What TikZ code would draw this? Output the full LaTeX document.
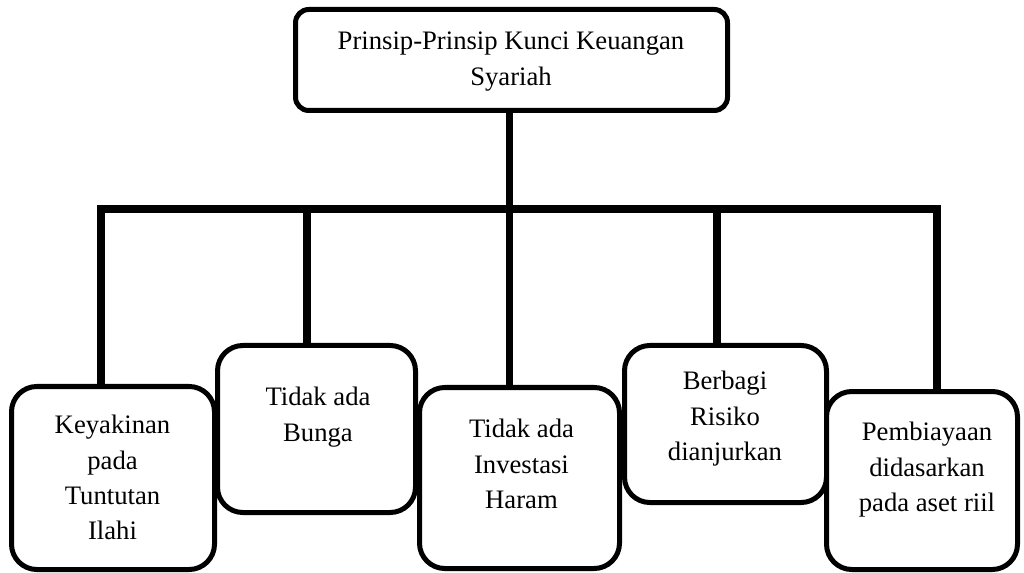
\documentclass[tikz,border=0pt]{standalone}
\usepackage{fontspec}
\setmainfont{Liberation Serif}
\usetikzlibrary{backgrounds}
\begin{document}
\begin{tikzpicture}[x=0.75pt,y=-0.75pt,
  box/.style={draw=black, fill=white, line width=3.75pt, rounded corners=19pt, inner sep=0pt, outer sep=0pt},
  topbox/.style={box, rounded corners=10pt},
  conn/.style={draw=black, line width=5.6pt, line join=miter},
  lbl/.style={anchor=north, inner sep=0pt, align=center, font=\fontsize{20pt}{26.5pt}\selectfont}
]
\useasboundingbox (0,0) rectangle (1024,573);
% boxes
\node[topbox, minimum width=324pt, minimum height=75.75pt] (top) at (511.5,60) {};
\node[box, minimum width=152.25pt, minimum height=137.25pt] (b1) at (113,478) {};
\node[box, minimum width=148.5pt, minimum height=125.25pt] (b2) at (316.5,429) {};
\node[box, minimum width=150pt, minimum height=135.75pt] (b3) at (519.5,478) {};
\node[box, minimum width=151.5pt, minimum height=117.75pt] (b4) at (725.5,424) {};
\node[box, minimum width=143.25pt, minimum height=133.5pt] (b5) at (922,480.5) {};
% junction coordinates on the bar
\coordinate (d1) at (101,209);
\coordinate (d2) at (307,209);
\coordinate (d3) at (509.5,209);
\coordinate (d4) at (717,209);
\coordinate (d5) at (937,209);
% connectors behind the boxes
\begin{scope}[on background layer]
\draw[conn] (d1 |- b1.north) -- (d1) -- (d5) -- (d5 |- b5.north);
\draw[conn] (d3 |- top.south) -- (d3 |- b3.north);
\draw[conn] (d2) -- (d2 |- b2.north);
\draw[conn] (d4) -- (d4 |- b4.north);
\end{scope}
% texts
\node[lbl, font=\fontsize{20pt}{27pt}\selectfont] (t0) at (511,32) {Prinsip-Prinsip Kunci Keuangan\\Syariah};
\node[lbl] (t1) at (112.5,415) {Keyakinan\\pada\\Tuntutan\\Ilahi};
\node[lbl] (t2) at (318,387) {Tidak ada\\Bunga};
\node[lbl] (t3) at (521.5,419) {Tidak ada\\Investasi\\Haram};
\node[lbl] (t4) at (725,371) {Berbagi\\Risiko\\dianjurkan};
\node[lbl] (t5) at (927,422) {Pembiayaan\\didasarkan\\pada aset riil};
\end{tikzpicture}
\end{document}
